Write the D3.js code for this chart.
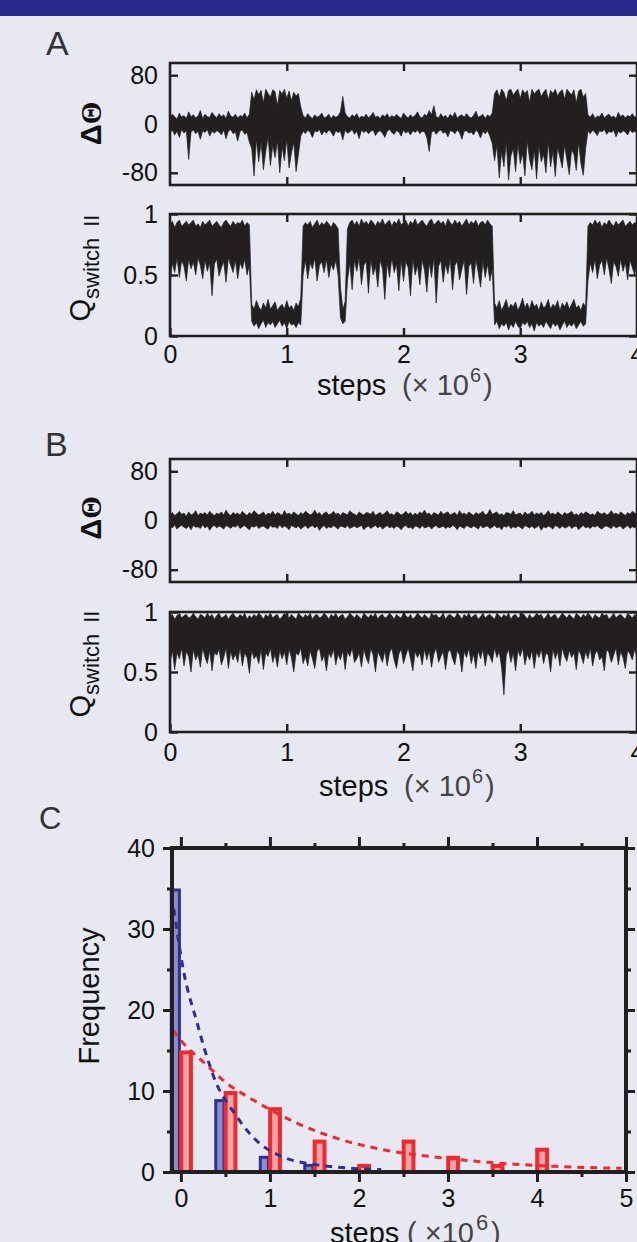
<!DOCTYPE html>
<html>
<head>
<meta charset="utf-8">
<script src="https://cdn.jsdelivr.net/npm/d3@7"></script>
<style>
  body { margin: 0; background: #e8e8f2; }
  svg { display: block; }
</style>
</head>
<body>
<svg id="fig" width="637" height="1242"></svg>
<script>
// traces are sampled every 0.02 x 10^6 steps, 201 samples from 0 to 4
const sampleStep = 0.02;

// panel A, delta theta: upper / lower envelope per sample
const aThetaHi = [10,16,12,8,18,11,14,9,20,12,
  15,10,13,22,9,16,12,11,19,14,
  10,17,12,15,9,21,13,11,16,10,
  14,12,18,10,16,52,40,56,48,55,
  35,57,50,44,56,53,30,55,49,57,
  42,54,38,52,46,50,28,14,10,17,
  12,9,15,11,13,18,10,12,16,9,
  14,11,13,20,45,18,12,10,15,12,
  17,9,13,11,16,10,14,19,11,13,
  9,15,12,17,10,14,11,16,12,9,
  18,13,10,15,11,14,20,12,10,16,
  13,22,15,30,12,10,17,11,14,9,
  16,12,19,10,13,15,11,17,12,10,
  14,21,11,13,16,9,15,12,18,50,
  56,44,57,52,38,55,57,47,53,57,
  42,56,50,55,36,57,49,54,57,45,
  52,57,40,55,50,57,46,53,56,41,
  57,52,48,56,35,54,57,44,50,15,
  11,17,9,13,12,18,10,14,16,11,
  13,9,19,12,15,10,14,12,17,11,13];
const aThetaLo = [-14,-10,-18,-12,-22,-9,-15,-11,-58,-13,
  -10,-16,-12,-25,-11,-14,-9,-20,-12,-15,
  -11,-13,-18,-10,-24,-12,-9,-16,-13,-28,
  -12,-10,-17,-14,-30,-40,-85,-25,-62,-30,
  -75,-45,-22,-68,-35,-55,-28,-80,-38,-60,
  -25,-72,-48,-30,-78,-50,-20,-12,-16,-10,
  -14,-22,-11,-13,-9,-18,-12,-15,-10,-13,
  -20,-11,-14,-12,-26,-10,-15,-13,-9,-17,
  -12,-24,-10,-14,-11,-16,-12,-10,-19,-13,
  -11,-15,-22,-12,-9,-14,-17,-11,-13,-20,
  -10,-15,-12,-18,-11,-14,-10,-16,-12,-13,
  -22,-45,-14,-11,-17,-12,-10,-15,-13,-21,
  -11,-12,-16,-10,-14,-25,-12,-11,-15,-13,
  -18,-10,-14,-23,-12,-16,-11,-20,-32,-60,
  -35,-88,-45,-70,-30,-92,-52,-40,-78,-33,
  -65,-48,-85,-28,-58,-75,-42,-90,-36,-62,
  -50,-80,-30,-70,-45,-86,-38,-55,-72,-34,
  -60,-83,-42,-50,-76,-30,-65,-84,-40,-12,
  -16,-10,-14,-19,-11,-13,-9,-17,-12,-14,
  -10,-21,-12,-15,-11,-13,-18,-10,-14,-12,-15];

// panel A, Q switch II
const aQHi = [.91,.94,.89,.93,.95,.90,.92,.94,.91,.93,
  .95,.90,.92,.89,.94,.91,.93,.95,.90,.92,
  .94,.91,.89,.93,.95,.92,.90,.94,.91,.93,
  .92,.95,.90,.93,.91,.26,.22,.29,.24,.21,
  .27,.23,.30,.22,.25,.28,.21,.24,.26,.22,
  .29,.23,.25,.21,.27,.24,.31,.90,.93,.91,
  .94,.89,.92,.95,.90,.93,.91,.94,.92,.89,
  .93,.91,.88,.40,.22,.28,.88,.93,.95,.91,
  .94,.90,.96,.92,.94,.91,.95,.93,.90,.94,
  .92,.96,.91,.93,.95,.90,.94,.92,.96,.91,
  .93,.95,.90,.94,.92,.96,.91,.93,.95,.92,
  .90,.94,.96,.91,.93,.95,.92,.94,.90,.96,
  .93,.91,.95,.92,.94,.90,.93,.96,.91,.94,
  .92,.95,.90,.93,.94,.91,.95,.92,.90,.27,
  .23,.29,.21,.25,.30,.22,.26,.24,.28,.21,
  .25,.31,.23,.27,.22,.29,.24,.26,.21,.28,
  .23,.25,.30,.22,.26,.24,.29,.21,.27,.24,
  .28,.22,.26,.30,.23,.25,.21,.27,.24,.90,
  .93,.91,.95,.92,.94,.89,.93,.91,.95,.92,
  .90,.94,.91,.93,.95,.90,.92,.94,.91,.93,.92];
const aQLo = [.42,.60,.52,.64,.48,.62,.57,.45,.63,.55,
  .61,.50,.64,.58,.47,.62,.53,.60,.33,.59,
  .63,.49,.56,.61,.44,.64,.58,.52,.62,.47,
  .60,.55,.63,.50,.58,.12,.08,.11,.06,.10,
  .13,.07,.11,.09,.12,.07,.10,.13,.08,.11,
  .06,.12,.09,.10,.07,.11,.09,.50,.62,.47,
  .60,.55,.64,.45,.58,.61,.52,.63,.48,.59,
  .54,.62,.50,.15,.10,.12,.45,.60,.38,.62,
  .53,.64,.42,.58,.61,.35,.63,.50,.57,.40,
  .62,.55,.30,.60,.48,.64,.52,.59,.37,.62,
  .45,.61,.56,.33,.63,.50,.58,.42,.62,.54,
  .36,.60,.48,.64,.27,.57,.62,.44,.59,.51,
  .63,.38,.58,.61,.46,.55,.62,.34,.57,.60,
  .43,.63,.52,.40,.61,.48,.59,.45,.55,.09,
  .12,.06,.10,.08,.11,.05,.10,.07,.12,.08,
  .06,.11,.09,.12,.07,.10,.04,.11,.08,.10,
  .07,.12,.09,.06,.11,.08,.10,.05,.09,.12,
  .07,.10,.08,.11,.06,.09,.12,.08,.10,.45,
  .60,.52,.63,.47,.58,.62,.50,.64,.55,.43,
  .61,.57,.49,.63,.53,.60,.46,.62,.56,.50,.61];

// panel B, delta theta
const bThetaHi = [9,13,8,11,15,10,12,7,14,9,
  11,16,8,12,10,13,9,15,11,8,
  12,10,14,9,17,11,8,13,10,12,
  9,15,11,8,13,10,16,12,9,11,
  14,8,12,10,15,9,13,11,8,16,
  10,12,9,14,11,8,13,10,15,12,
  9,11,17,10,13,8,12,14,9,11,
  15,10,12,8,13,11,9,16,12,10,
  8,14,11,9,13,12,10,15,8,11,
  13,9,12,16,10,11,8,14,12,9,
  11,15,10,13,8,12,9,14,11,17,
  10,12,8,13,11,9,15,10,12,14,
  9,11,13,8,16,10,12,9,14,11,
  8,13,10,12,15,9,11,18,10,12,
  14,9,11,8,13,12,10,16,9,11,
  12,8,14,10,11,15,9,12,10,13,
  8,11,16,10,12,9,14,11,8,13,
  10,12,15,9,11,8,13,10,14,12,
  9,11,8,15,12,10,13,9,11,16,
  10,12,9,14,11,8,13,10,15,12,11];
const bThetaLo = [-9,-12,-7,-14,-10,-8,-11,-13,-9,-15,
  -8,-11,-10,-13,-7,-12,-9,-16,-10,-8,
  -12,-9,-11,-14,-8,-10,-13,-9,-11,-7,
  -13,-10,-8,-12,-15,-9,-11,-8,-13,-10,
  -9,-12,-14,-8,-11,-10,-13,-7,-12,-9,
  -11,-15,-8,-10,-12,-9,-14,-11,-8,-13,
  -10,-8,-12,-9,-16,-11,-8,-13,-10,-12,
  -8,-11,-14,-9,-10,-12,-8,-13,-11,-9,
  -12,-10,-8,-15,-11,-9,-13,-10,-8,-12,
  -9,-14,-11,-8,-12,-10,-13,-9,-11,-15,
  -10,-8,-12,-11,-14,-9,-10,-13,-8,-12,
  -11,-9,-14,-10,-8,-12,-11,-9,-13,-10,
  -12,-8,-10,-15,-9,-11,-13,-8,-10,-12,
  -9,-11,-14,-8,-12,-10,-9,-13,-11,-8,
  -12,-10,-15,-9,-11,-8,-13,-10,-12,-9,
  -11,-14,-8,-10,-12,-9,-13,-11,-8,-16,
  -10,-12,-9,-11,-14,-8,-10,-13,-9,-12,
  -11,-8,-13,-10,-9,-15,-11,-8,-12,-10,
  -13,-9,-11,-8,-12,-14,-10,-9,-11,-13,
  -8,-12,-10,-9,-14,-11,-8,-13,-10,-12,-9];

// panel B, Q switch II
const bQHi = [.96,.98,.94,.97,.99,.95,.97,.98,.95,.96,
  .99,.96,.94,.98,.97,.95,.99,.96,.98,.94,
  .97,.99,.95,.96,.98,.94,.97,.99,.96,.95,
  .98,.96,.99,.94,.97,.95,.98,.96,.99,.97,
  .94,.98,.96,.99,.95,.97,.98,.94,.96,.99,
  .97,.95,.98,.96,.94,.99,.97,.95,.98,.96,
  .99,.94,.97,.98,.95,.96,.99,.97,.94,.98,
  .96,.99,.95,.97,.98,.94,.96,.99,.97,.95,
  .98,.96,.94,.99,.97,.95,.98,.96,.99,.94,
  .97,.98,.95,.96,.99,.97,.94,.98,.96,.95,
  .99,.97,.95,.98,.94,.96,.99,.97,.95,.98,
  .96,.94,.99,.97,.98,.95,.96,.99,.94,.97,
  .98,.96,.95,.99,.97,.94,.98,.96,.99,.95,
  .97,.98,.94,.96,.99,.95,.97,.98,.96,.94,
  .99,.97,.95,.98,.96,.99,.94,.97,.98,.95,
  .96,.99,.97,.94,.98,.95,.96,.99,.97,.98,
  .94,.96,.99,.95,.97,.98,.94,.96,.99,.97,
  .95,.98,.96,.94,.99,.97,.95,.98,.96,.99,
  .97,.94,.98,.96,.95,.99,.97,.98,.94,.96,
  .99,.95,.97,.98,.96,.94,.99,.97,.95,.98,.96];
const bQLo = [.58,.68,.52,.66,.61,.70,.55,.67,.63,.50,
  .69,.60,.65,.54,.70,.62,.57,.68,.51,.66,
  .64,.69,.56,.62,.70,.53,.67,.60,.65,.58,
  .70,.55,.66,.62,.49,.68,.61,.64,.57,.69,
  .52,.66,.63,.70,.58,.65,.54,.68,.61,.67,
  .56,.69,.62,.50,.66,.64,.70,.57,.63,.55,
  .68,.61,.53,.67,.70,.59,.64,.51,.66,.62,
  .69,.56,.65,.60,.68,.52,.67,.63,.70,.58,
  .61,.66,.54,.69,.62,.57,.70,.64,.50,.67,
  .63,.58,.68,.55,.66,.70,.60,.53,.65,.69,
  .57,.64,.70,.61,.51,.67,.62,.66,.56,.69,
  .60,.68,.54,.65,.70,.58,.63,.67,.52,.66,
  .69,.61,.56,.68,.64,.50,.67,.62,.70,.57,
  .65,.53,.68,.61,.69,.55,.66,.63,.58,.70,
  .62,.67,.54,.31,.64,.69,.58,.66,.51,.68,
  .63,.70,.56,.65,.60,.68,.53,.67,.62,.69,
  .57,.66,.64,.50,.69,.61,.67,.55,.70,.63,
  .59,.68,.62,.66,.52,.69,.64,.57,.67,.61,
  .70,.55,.65,.68,.60,.63,.51,.69,.66,.58,
  .64,.70,.56,.67,.62,.53,.68,.65,.60,.69,.62];

// panel C histogram
const binCenters = [0, 0.5, 1, 1.5, 2, 2.5, 3, 3.5, 4];
const blueCounts = [35, 9, 2, 1, 0, 0, 0, 0, 0];
const redCounts = [15, 10, 8, 4, 1, 4, 2, 1, 3];
const blueFitX = [-0.08, 0.03, 0.18, 0.27, 0.4, 0.58, 0.81, 1.16, 1.45, 1.75, 2.0, 2.25];
const blueFitY = [32.5, 24.8, 18.5, 15, 10.9, 7.6, 4.3, 1.8, 1.0, 0.6, 0.4, 0.3];
const redFitX = [-0.09, 0.02, 0.29, 0.51, 0.78, 1.35, 1.8, 2.35, 2.9, 3.45, 4.2, 4.95];
const redFitY = [17.5, 16, 13.2, 11, 9.1, 5.8, 4.0, 2.6, 1.8, 1.2, 0.7, 0.45];

const FONT = "'Liberation Sans', Arial, Helvetica, sans-serif";
const INK = "#231f20";

const svg = d3.select("#fig");
svg.append("rect").attr("width", 637).attr("height", 1242).attr("fill", "#e8e8f2");
svg.append("rect").attr("width", 637).attr("height", 16).attr("fill", "#28288a");

function styleAxis(sel, size, w) {
  sel.select(".domain").remove();
  sel.attr("font-family", FONT).attr("font-size", size);
  sel.selectAll(".tick line").attr("stroke", INK).attr("stroke-width", w);
  sel.selectAll(".tick text").attr("fill", "#111");
}

function tracePlot(cfg) {
  const x = d3.scaleLinear().domain([0, 4]).range([170, 637]);
  const y = d3.scaleLinear().domain(cfg.yDomain).range([cfg.bottom, cfg.top]);
  const g = svg.append("g");

  const area = d3.area()
    .x((d, i) => x(i * sampleStep))
    .y0((d, i) => y(cfg.lo[i]))
    .y1(d => y(d));
  g.append("path").datum(cfg.hi)
    .attr("d", area)
    .attr("fill", INK)
    .attr("stroke", INK)
    .attr("stroke-width", 0.7)
    .attr("stroke-linejoin", "miter");

  g.append("rect")
    .attr("x", 170).attr("y", cfg.top)
    .attr("width", 467).attr("height", cfg.bottom - cfg.top)
    .attr("fill", "none").attr("stroke", INK).attr("stroke-width", 2.6);

  const yAx = g.append("g").attr("transform", "translate(170,0)")
    .call(d3.axisLeft(y).tickValues(cfg.yTicks).tickSize(-8).tickPadding(12).tickFormat(d => String(d)));
  styleAxis(yAx, 25, 2.4);

  const yAxR = g.append("g").attr("transform", "translate(637,0)")
    .call(d3.axisRight(y).tickValues(cfg.yTicks).tickSize(-8).tickFormat(""));
  styleAxis(yAxR, 25, 2.4);

  const xAxT = g.append("g").attr("transform", `translate(0,${cfg.top})`)
    .call(d3.axisTop(x).tickValues([1, 2, 3]).tickSize(-8).tickFormat(""));
  styleAxis(xAxT, 25, 2.4);

  const xAxB = g.append("g").attr("transform", `translate(0,${cfg.bottom})`)
    .call(d3.axisBottom(x).tickValues(cfg.xLabels ? [0, 1, 2, 3, 4] : [1, 2, 3])
      .tickSize(-8).tickPadding(cfg.xPad || 9)
      .tickFormat(cfg.xLabels ? d => String(d) : ""));
  styleAxis(xAxB, 25, 2.4);
}

function thetaLabel(bx, cy) {
  const t = svg.append("text")
    .attr("transform", `translate(${bx},${cy}) rotate(-90)`)
    .attr("text-anchor", "middle")
    .attr("font-family", FONT).attr("font-size", 29)
    .attr("fill", "#111");
  t.append("tspan").attr("font-weight", "bold").text("Δ");
  t.append("tspan").attr("font-family", "'Liberation Serif', serif").attr("font-weight", "bold").text("Θ");
}

function qLabel(bx, cy) {
  const t = svg.append("text")
    .attr("transform", `translate(${bx},${cy}) rotate(-90)`)
    .attr("text-anchor", "middle")
    .attr("font-family", FONT).attr("fill", "#111");
  t.append("tspan").attr("font-size", 29).text("Q");
  t.append("tspan").attr("font-size", 22).attr("dy", 9).text("switch\u2002II");
}

function stepsLabel(x, base, parenX, supX, closeX, supSize, parenText) {
  svg.append("text").attr("x", x).attr("y", base)
    .attr("font-family", FONT).attr("font-size", 29).attr("fill", "#111").text("steps");
  svg.append("text").attr("x", parenX).attr("y", base)
    .attr("font-family", FONT).attr("font-size", 29).attr("fill", "#444").text(parenText);
  svg.append("text").attr("x", supX).attr("y", base - 13)
    .attr("font-family", FONT).attr("font-size", supSize).attr("fill", "#444").text("6");
  svg.append("text").attr("x", closeX).attr("y", base)
    .attr("font-family", FONT).attr("font-size", 29).attr("fill", "#444").text(")");
}

function panelLetter(txt, x, y, size) {
  svg.append("text").attr("x", x).attr("y", y)
    .attr("font-family", FONT).attr("font-size", size).attr("fill", "#333").text(txt);
}

// ---- panel A
panelLetter("A", 46, 55, 34);
tracePlot({ top: 63, bottom: 185, yDomain: [-100, 100], yTicks: [-80, 0, 80],
  hi: aThetaHi, lo: aThetaLo, xLabels: false });
tracePlot({ top: 214, bottom: 336, yDomain: [0, 1], yTicks: [0, 0.5, 1],
  hi: aQHi, lo: aQLo, xLabels: true, xPad: 9 });
thetaLabel(101, 123.5);
qLabel(90, 268);
stepsLabel(317, 395, 402, 470, 483, 20, "(× 10");

// ---- panel B
panelLetter("B", 45, 456, 34);
tracePlot({ top: 459, bottom: 582, yDomain: [-100, 100], yTicks: [-80, 0, 80],
  hi: bThetaHi, lo: bThetaLo, xLabels: false });
tracePlot({ top: 612, bottom: 732, yDomain: [0, 1], yTicks: [0, 0.5, 1],
  hi: bQHi, lo: bQLo, xLabels: true, xPad: 11 });
thetaLabel(101, 518);
qLabel(90, 664);
stepsLabel(319, 796, 404, 472, 485, 20, "(× 10");

// ---- panel C
panelLetter("C", 39, 829, 31);
const cx = d3.scaleLinear().domain([-0.1, 5]).range([172, 626]);
const cy = d3.scaleLinear().domain([0, 40]).range([1172, 848]);
const gc = svg.append("g");

const blueBars = binCenters.map((c, i) => ({ c: c, v: blueCounts[i] })).filter(d => d.v > 0);
const redBars = binCenters.map((c, i) => ({ c: c, v: redCounts[i] })).filter(d => d.v > 0);

gc.selectAll("rect.blue").data(blueBars).enter().append("rect")
  .attr("class", "blue")
  .attr("x", d => cx(d.c - 0.125) + 1.5)
  .attr("y", d => cy(d.v) + 1.5)
  .attr("width", d => cx(d.c) - cx(d.c - 0.125) - 3)
  .attr("height", d => cy(0) - cy(d.v) - 1.5)
  .attr("fill", "#8a8fcc").attr("stroke", "#2e3192").attr("stroke-width", 3);

gc.selectAll("rect.red").data(redBars).enter().append("rect")
  .attr("class", "red")
  .attr("x", d => cx(d.c - 0.02) + 2)
  .attr("y", d => cy(d.v) + 2)
  .attr("width", d => cx(d.c + 0.135) - cx(d.c - 0.02) - 4)
  .attr("height", d => cy(0) - cy(d.v) - 2)
  .attr("fill", "#f4a4a4").attr("stroke", "#ee2a30").attr("stroke-width", 4);

const fitLine = d3.line().x(d => cx(d[0])).y(d => cy(d[1])).curve(d3.curveMonotoneX);
gc.append("path").datum(blueFitX.map((v, i) => [v, blueFitY[i]]))
  .attr("d", fitLine).attr("fill", "none").attr("stroke", "#2e3192")
  .attr("stroke-width", 3).attr("stroke-dasharray", "7,6");
gc.append("path").datum(redFitX.map((v, i) => [v, redFitY[i]]))
  .attr("d", fitLine).attr("fill", "none").attr("stroke", "#ee2a30")
  .attr("stroke-width", 3).attr("stroke-dasharray", "7,6");

gc.append("rect").attr("x", 172).attr("y", 848).attr("width", 454).attr("height", 324)
  .attr("fill", "none").attr("stroke", INK).attr("stroke-width", 4);

const cLeft = gc.append("g").attr("transform", "translate(172,0)")
  .call(d3.axisLeft(cy).tickValues([0, 10, 20, 30, 40]).tickSize(9).tickPadding(8).tickFormat(d => String(d)));
styleAxis(cLeft, 25, 3);
styleAxis(gc.append("g").attr("transform", "translate(172,0)")
  .call(d3.axisLeft(cy).tickValues([5, 15, 25, 35]).tickSize(5).tickFormat("")), 25, 3);
styleAxis(gc.append("g").attr("transform", "translate(626,0)")
  .call(d3.axisRight(cy).tickValues([0, 10, 20, 30, 40]).tickSize(9).tickFormat("")), 25, 3);
styleAxis(gc.append("g").attr("transform", "translate(626,0)")
  .call(d3.axisRight(cy).tickValues([5, 15, 25, 35]).tickSize(5).tickFormat("")), 25, 3);
styleAxis(gc.append("g").attr("transform", "translate(0,848)")
  .call(d3.axisTop(cx).tickValues([0, 1, 2, 3, 4, 5]).tickSize(11).tickFormat("")), 25, 3);
styleAxis(gc.append("g").attr("transform", "translate(0,848)")
  .call(d3.axisTop(cx).tickValues([0.5, 1.5, 2.5, 3.5, 4.5]).tickSize(5).tickFormat("")), 25, 3);
const cBottom = gc.append("g").attr("transform", "translate(0,1172)")
  .call(d3.axisBottom(cx).tickValues([0, 1, 2, 3, 4, 5]).tickSize(10).tickPadding(7).tickFormat(d => String(d)));
styleAxis(cBottom, 25, 3);
styleAxis(gc.append("g").attr("transform", "translate(0,1172)")
  .call(d3.axisBottom(cx).tickValues([0.5, 1.5, 2.5, 3.5, 4.5]).tickSize(5).tickFormat("")), 25, 3);

svg.append("text")
  .attr("transform", "translate(99,996) rotate(-90)")
  .attr("text-anchor", "middle")
  .attr("font-family", FONT).attr("font-size", 29).attr("fill", "#111")
  .text("Frequency");

stepsLabel(330, 1243, 407, 476, 491, 22, "( ×10");
</script>
</body>
</html>
